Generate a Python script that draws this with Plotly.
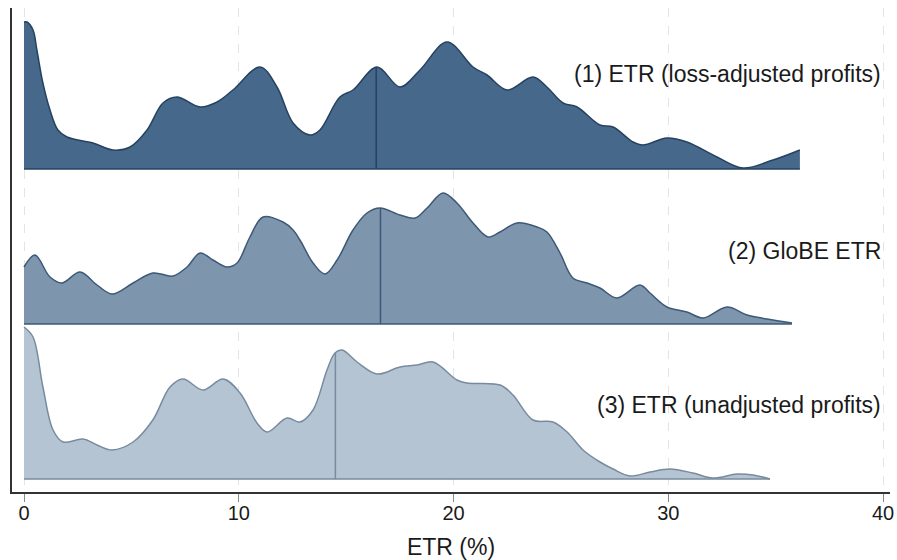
import numpy as np
import plotly.graph_objects as go

# Kernel-density ridges of effective tax rates (density on a common scaled axis)
ETR1_X = [0, 0.14, 0.42, 0.6, 0.88, 1.21, 1.58, 2.0, 3.21, 4.14,
          4.94, 5.73, 6.47, 7.12, 8.2, 8.99, 9.73, 10.99, 11.78, 12.53,
          13.32, 13.78, 14.71, 15.32, 16.44, 17.51, 18.44, 19.7, 20.91, 21.56,
          22.49, 23.7, 24.35, 25.1, 25.75, 26.82, 27.43, 28.36, 28.82, 29.94,
          30.87, 32.27, 33.48, 34.88, 36.13]
ETR1_D = [147, 147, 139, 119, 86, 59, 39, 32, 26, 19,
          22, 39, 66, 72, 62, 67, 79, 102, 82, 46,
          34, 39, 72, 79, 102, 82, 99, 127, 102, 94,
          79, 92, 82, 66, 62, 44, 42, 27, 24, 31,
          27, 12, 1, 9, 19]

GLOBE_X = [0, 0.51, 1.21, 1.77, 2.61, 3.4, 4.1, 5.08, 6.0, 6.94,
           7.59, 8.2, 8.8, 9.45, 9.92, 10.52, 11.13, 12.06, 12.53, 12.85,
           13.46, 14.02, 14.58, 15.32, 15.97, 16.58, 17.51, 18.21, 18.77, 19.51,
           20.16, 20.91, 21.61, 22.17, 22.96, 23.89, 24.35, 24.96, 25.56, 26.22,
           26.82, 27.61, 28.68, 29.15, 29.94, 30.87, 31.62, 32.74, 33.67, 34.6,
           35.76]
GLOBE_D = [57, 69, 47, 41, 52, 39, 30, 41, 51, 48,
           57, 71, 64, 57, 61, 87, 107, 102, 94, 84,
           61, 50, 64, 94, 111, 116, 109, 106, 116, 131,
           121, 101, 87, 92, 101, 97, 92, 71, 46, 41,
           36, 26, 39, 31, 17, 12, 6, 17, 9, 5,
           1]

ETR3_X = [0, 0.42, 0.88, 1.35, 1.82, 2.75, 3.4, 4.1, 5.08, 6.0,
          6.8, 7.4, 8.34, 9.27, 10.06, 10.85, 11.32, 12.25, 12.85, 13.46,
          14.11, 14.48, 14.81, 15.51, 16.44, 17.51, 18.3, 19.05, 20.16, 20.63,
          22.17, 22.77, 23.7, 24.63, 25.29, 26.03, 26.82, 27.43, 28.22, 29.15,
          30.08, 31.15, 32.08, 33.2, 33.95, 34.74]
ETR3_D = [152, 142, 92, 49, 37, 40, 34, 29, 37, 59,
          92, 100, 89, 100, 86, 56, 47, 61, 57, 69,
          109, 126, 129, 117, 105, 112, 114, 117, 99, 96,
          94, 84, 59, 57, 47, 29, 17, 10, 3, 7,
          10, 6, 1, 5, 4, 0]

LABELS = ["(1) ETR (loss-adjusted profits)", "(2) GloBE ETR", "(3) ETR (unadjusted profits)"]
MEDIANS = [16.4, 16.6, 14.5]
X_TICKS = [0, 10, 20, 30, 40]

RIDGE_STEP = 155  # vertical offset between ridges, in density units

ridges = [
    dict(label=LABELS[2], x=ETR3_X, d=ETR3_D, med=MEDIANS[2], base=0,
         fill="rgb(181,196,211)", line="rgb(120,139,158)"),
    dict(label=LABELS[1], x=GLOBE_X, d=GLOBE_D, med=MEDIANS[1], base=RIDGE_STEP,
         fill="rgb(125,149,173)", line="rgb(62,89,118)"),
    dict(label=LABELS[0], x=ETR1_X, d=ETR1_D, med=MEDIANS[0], base=2 * RIDGE_STEP,
         fill="rgb(70,104,138)", line="rgb(38,66,96)"),
]

FONT = "Liberation Sans, Arial, sans-serif"

fig = go.Figure()
label_y = {LABELS[0]: 405, LABELS[1]: 228, LABELS[2]: 74}

for r in ridges:
    base = r["base"]
    xs = np.array(r["x"], dtype=float)
    ys = np.array(r["d"], dtype=float) + base
    # baseline of the ridge
    fig.add_trace(go.Scatter(x=[xs[0], xs[-1]], y=[base, base], mode="lines",
                             line=dict(color=r["line"], width=1.5),
                             hoverinfo="skip"))
    # density curve filled down to its baseline
    fig.add_trace(go.Scatter(x=xs, y=ys, mode="lines", fill="tonexty",
                             fillcolor=r["fill"],
                             line=dict(color=r["line"], width=1.5, shape="spline", smoothing=1),
                             hoverinfo="skip"))
    # median marker
    med_h = float(np.interp(r["med"], xs, ys))
    fig.add_trace(go.Scatter(x=[r["med"], r["med"]], y=[base, med_h], mode="lines",
                             line=dict(color=r["line"], width=1.5),
                             hoverinfo="skip"))
    fig.add_annotation(x=40.0, y=label_y[r["label"]], xref="x", yref="y",
                       text=r["label"], showarrow=False, xanchor="right", yanchor="middle",
                       font=dict(family=FONT, size=23, color="#1a1a1a"))

fig.update_layout(
    width=897, height=560,
    margin=dict(l=12, r=7, t=8, b=68, autoexpand=False),
    plot_bgcolor="white", paper_bgcolor="white",
    showlegend=False,
    font=dict(family=FONT, color="#1a1a1a"),
)
fig.update_xaxes(
    range=[-0.559, 40.326], tickvals=X_TICKS, ticktext=[str(t) for t in X_TICKS],
    automargin=False,
    showgrid=True, gridcolor="#e4e4e4", griddash="dash", gridwidth=1,
    zeroline=False, showline=True, linecolor="#333333", linewidth=1.5,
    ticks="outside", ticklen=8, tickcolor="#8a8a8a", tickwidth=1,
    ticklabelstandoff=-6,
    tickfont=dict(size=20, color="#1a1a1a"),
    title=dict(text="ETR (%)", font=dict(size=23, color="#1a1a1a"), standoff=16),
)
fig.update_yaxes(
    range=[-13, 471], showgrid=False, zeroline=False, showticklabels=False,
    automargin=False,
    showline=True, linecolor="#333333", linewidth=1.5, ticks="",
)

fig.write_html("out.html", config={"displayModeBar": False})
